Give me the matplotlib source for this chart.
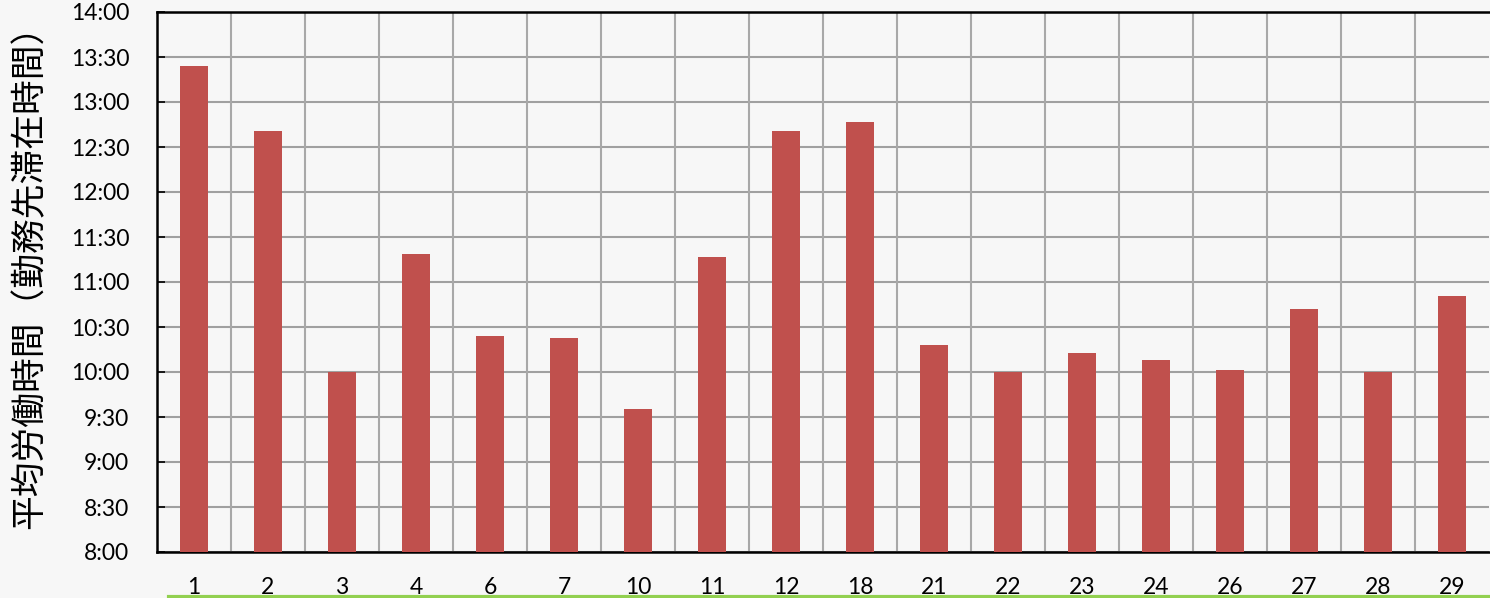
import numpy as np
import matplotlib
matplotlib.use("Agg")
import matplotlib.pyplot as plt
from matplotlib.ticker import FuncFormatter, MultipleLocator
from matplotlib.lines import Line2D

plt.rcParams['font.family'] = ['Lato', 'Noto Sans CJK JP', 'DejaVu Sans']

# データ（平均労働時間、分単位の時刻）
labels = ["1", "2", "3", "4", "6", "7", "10", "11", "12", "18",
          "21", "22", "23", "24", "26", "27", "28", "29"]
hours = [13, 12, 10, 11, 10, 10, 9, 11, 12, 12,
         10, 10, 10, 10, 10, 10, 10, 10]
minutes = [24, 41, 0, 19, 24, 23, 35, 17, 41, 47,
           18, 0, 13, 8, 1, 42, 0, 51]
ylabel = "平均労働時間（勤務先滞在時間）"

values = np.array(hours) + np.array(minutes) / 60.0
x = np.arange(len(labels))

bg = "#f7f7f7"
fig = plt.figure(figsize=(14.9, 5.98), dpi=100, facecolor=bg)
ax = fig.add_axes([157 / 1490, 46 / 598, 1332 / 1490, 540 / 598])
ax.set_facecolor(bg)

ax.bar(x, values - 8, bottom=8, width=0.38, color="#C0504D", zorder=3)

ax.set_xlim(-0.5, len(labels) - 0.5)
ax.set_ylim(8, 14)
ax.yaxis.set_major_locator(MultipleLocator(0.5))
ax.yaxis.set_major_formatter(FuncFormatter(
    lambda v, p: "%d:%02d" % (int(v), int(round((v - int(v)) * 60)))))

ax.set_xticks(x)
ax.set_xticklabels(labels, fontsize=16.5)
ax.tick_params(axis="x", length=0, pad=18)
ax.set_xticks(np.arange(1.5, len(labels) - 0.5, 2), minor=True)
ax.tick_params(axis="x", which="minor", direction="in", length=6, width=1.2, color="black")
ax.tick_params(axis="y", labelsize=16.5, length=6, width=1.2, direction="in", pad=20)

# グリッド
for b in np.arange(0.5, len(labels) - 0.5, 1):
    ax.axvline(b, color="#a8a8a8", lw=1.5, zorder=1)
ax.yaxis.grid(True, color="#a0a0a0", lw=1.5, zorder=1)
ax.set_axisbelow(True)

for s in ["left", "bottom", "top"]:
    ax.spines[s].set_color("black")
    ax.spines[s].set_linewidth(1.8)
ax.spines["right"].set_visible(False)

fig.text(30 / 1490, 1 - 268 / 598, ylabel, rotation=90, ha="center", va="center",
         fontsize=25, family=['Noto Sans CJK JP', 'DejaVu Sans'])

# 下部の緑線
fig.add_artist(Line2D([169 / 1490, 1.0], [1.5 / 598, 1.5 / 598],
                      color="#92D050", lw=3, transform=fig.transFigure))

fig.savefig("out.png", dpi=100, facecolor=bg)
